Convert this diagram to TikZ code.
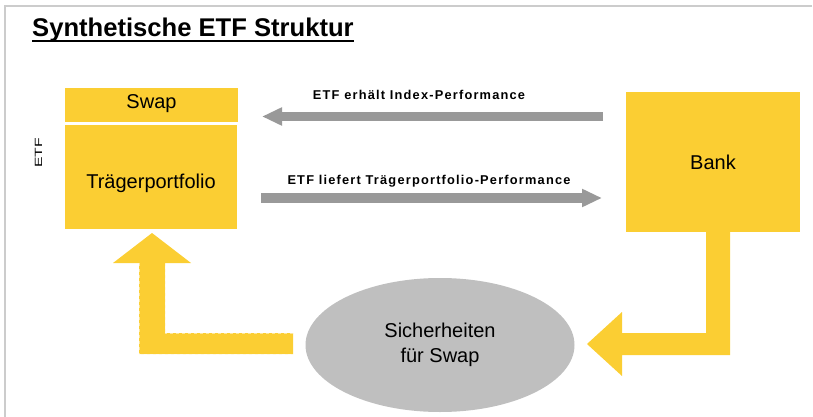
\documentclass[tikz,border=0pt]{standalone}
\usepackage{fontspec}
\setmainfont{Liberation Sans}
\usetikzlibrary{arrows.meta,shapes.geometric}
\definecolor{yel}{HTML}{FBCE33}
\definecolor{arrgray}{HTML}{999999}
\definecolor{ellgray}{HTML}{BFBFBF}
\definecolor{framegray}{HTML}{CCCCCC}
\begin{document}
\begin{tikzpicture}[x=1pt,y=-1pt,
  box/.style={fill=yel, draw=none, inner sep=0pt, rectangle},
  lbl/.style={inner sep=0pt, anchor=base, font=\fontsize{20}{25}\selectfont},
  arrlbl/.style={inner sep=0pt, anchor=base, font=\fontsize{12.8}{15}\selectfont\bfseries\addfontfeature{LetterSpace=9.4}},
  grayarrow/.style={draw=arrgray, line width=9.5pt, -{Triangle[length=20pt,width=17pt]}},
  yelarrow/.style={fill=yel, draw=none}]
\useasboundingbox (0,0) rectangle (813,417);
% frame
\draw[framegray, line width=1.2pt] (812,6) -- (5,6) -- (5,417);
% title
\node[inner sep=0pt, anchor=base west, font=\fontsize{25.6}{30}\selectfont\bfseries] (title) at (32,37) {Synthetische ETF Struktur};
\draw[line width=2.4pt] ([yshift=-4.3pt]title.base west) -- ([yshift=-4.3pt]title.base east);
% ETF boxes
\node[box, minimum width=173pt, minimum height=34pt] (swap) at (151.5,105) {};
\node[lbl] (swaptxt) at (151.5,109) {Swap};
\node[box, minimum width=172pt, minimum height=104pt] (tp) at (151,177) {};
\node[lbl] (tptxt) at (151,188) {Trägerportfolio};
\node[inner sep=0pt, rotate=90, font=\fontsize{10.5}{12}\selectfont] (etf) at (38.5,153) {\scalebox{1.5}[1]{ETF}};
% bank
\node[box, minimum width=174pt, minimum height=140pt] (bank) at (713,162) {};
\node[lbl] (banktxt) at (713,169) {Bank};
% collateral
\node[ellipse, fill=ellgray, draw=none, inner sep=0pt, minimum width=269pt, minimum height=134pt, align=center, font=\fontsize{20}{25}\selectfont] (coll) at (440,345) {Sicherheiten\\für Swap};
% gray arrows
\coordinate (a1s) at (603,116.5);
\coordinate (a1e) at (262,116.5);
\coordinate (a2s) at (261,198);
\coordinate (a2e) at (602,198);
\draw[grayarrow] (a1s) -- (a1e);
\draw[grayarrow] (a2s) -- (a2e);
\node[arrlbl] (l1) at (419,100) {ETF erhält Index-Performance};
\node[arrlbl] (l2) at (429,184) {ETF liefert Trägerportfolio-Performance};
% yellow L arrows
\fill[yelarrow] (293,333) -- (165,333) -- (165,263) -- (191,263) -- (152,233) -- (113,263) -- (139,263) -- (139,354) -- (293,354) -- cycle;
\draw[white, dashed, line width=0.5pt, opacity=0.5] (293,333) -- (165,333) -- (165,263) (139,263) -- (139,354) -- (293,354);
\fill[yelarrow] (706,232) -- (730,232) -- (730,355) -- (622,355) -- (622,376) -- (587,344) -- (622,312) -- (622,333) -- (706,333) -- cycle;
\end{tikzpicture}
\end{document}
